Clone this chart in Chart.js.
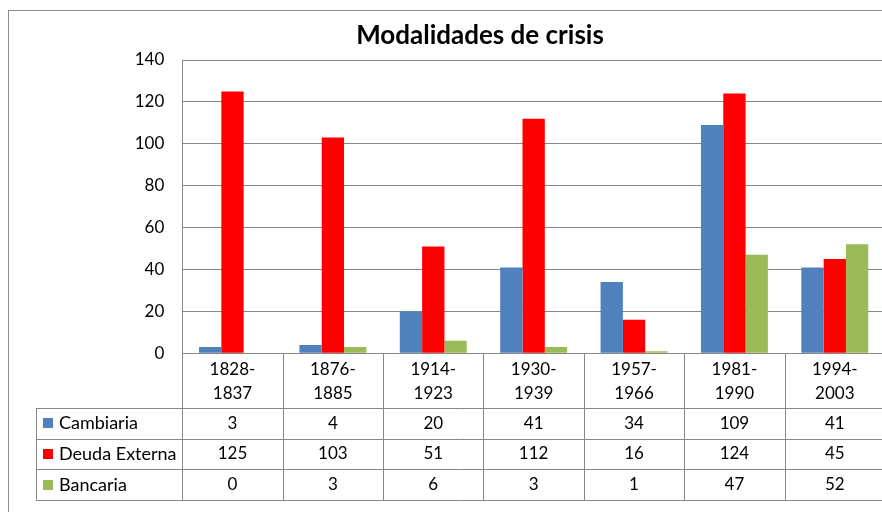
<!DOCTYPE html>
<html>
<head>
<meta charset="utf-8">
<script src="https://cdn.jsdelivr.net/npm/chart.js@4"></script>
<style>
  html, body { margin: 0; padding: 0; background: #fff; width: 882px; height: 512px; overflow: hidden; }
  #frame { position: absolute; left: 8px; top: 10px; width: 1000px; height: 600px; border: 1px solid #8e8e8e; }
  #wrap { position: absolute; left: 9px; top: 11px; width: 942px; height: 501px; }
</style>
</head>
<body>
<div id="frame"></div>
<div id="wrap"><canvas id="chartCrisis" width="942" height="501"></canvas></div>
<script>
// Modalidades de crisis: barras agrupadas + tabla de datos debajo (estilo Excel)
const categories = [
    ["1828-", "1837"], ["1876-", "1885"], ["1914-", "1923"], ["1930-", "1939"],
    ["1957-", "1966"], ["1981-", "1990"], ["1994-", "2003"]
];
const cambiaria = [3, 4, 20, 41, 34, 109, 41];
const deudaExterna = [125, 103, 51, 112, 16, 124, 45];
const bancaria = [0, 3, 6, 3, 1, 47, 52];
const yTicks = [0, 20, 40, 60, 80, 100, 120, 140];

const series = [
    { label: "Cambiaria", data: cambiaria, color: "#4f81bd" },
    { label: "Deuda Externa", data: deudaExterna, color: "#ff0000" },
    { label: "Bancaria", data: bancaria, color: "#9bbb59" },
];

const gridColor = "#868686";
const fontFamily = "Lato, 'Open Sans', sans-serif";

// tabla de datos (fila de categorias + una fila por serie) y titulo
const tablePlugin = {
    id: "dataTable",
    afterDraw(chart) {
        const { ctx, chartArea, scales: { x } } = chart;
        const top = chartArea.bottom;
        const rowTop = top + 54.5;
        const rowH = 30.8;
        const bottom = rowTop + rowH * 3;
        const left = 27;
        const step = (chartArea.right - chartArea.left) / categories.length;

        ctx.save();
        ctx.strokeStyle = gridColor;
        ctx.lineWidth = 1;
        ctx.beginPath();
        for (let r = 0; r <= 3; r++) {
            const yy = Math.round(rowTop + r * rowH) + 0.5;
            ctx.moveTo(left, yy);
            ctx.lineTo(chartArea.right, yy);
        }
        ctx.moveTo(left + 0.5, rowTop);
        ctx.lineTo(left + 0.5, bottom);
        for (let i = 0; i <= categories.length; i++) {
            const xx = Math.round(chartArea.left + i * step) + 0.5;
            ctx.moveTo(xx, top);
            ctx.lineTo(xx, bottom);
        }
        ctx.stroke();

        ctx.fillStyle = "#000";
        ctx.textBaseline = "middle";
        ctx.textAlign = "center";
        ctx.font = "17px " + fontFamily;
        categories.forEach((lines, i) => {
            const cx = x.getPixelForValue(i);
            lines.forEach((t, k) => ctx.fillText(t, cx, top + 16.5 + k * 24));
        });

        series.forEach((s, r) => {
            const cy = rowTop + rowH * (r + 0.5);
            ctx.fillStyle = s.color;
            ctx.fillRect(34, Math.round(cy) - 5, 10, 10);
            ctx.fillStyle = "#000";
            ctx.textAlign = "left";
            ctx.font = "18px " + fontFamily;
            ctx.fillText(s.label, 50, cy);
            ctx.textAlign = "center";
            ctx.font = "17px " + fontFamily;
            s.data.forEach((v, i) => ctx.fillText(String(v), x.getPixelForValue(i), cy));
        });

        // titulo centrado sobre todo el grafico
        ctx.font = "bold 26px " + fontFamily;
        ctx.textAlign = "center";
        ctx.fillText("Modalidades de crisis", chart.width / 2, 24.5);
        ctx.restore();
    },
};

new Chart(document.getElementById("chartCrisis"), {
    type: "bar",
    data: {
        labels: categories,
        datasets: series.map((s) => ({
            label: s.label,
            data: s.data,
            backgroundColor: s.color,
            borderWidth: 0,
            categoryPercentage: 3 / 4.5,
            barPercentage: 1,
        })),
    },
    options: {
        responsive: false,
        animation: false,
        layout: { padding: { top: 49, right: 66, bottom: 0, left: 0 } },
        plugins: {
            legend: { display: false },
            title: { display: false },
            tooltip: { enabled: false },
        },
        scales: {
            x: {
                grid: { display: false },
                border: { display: true, color: gridColor, width: 1 },
                ticks: { display: false },
                afterFit(scale) { scale.height = 158.7; },
            },
            y: {
                min: 0,
                max: 140,
                afterBuildTicks(scale) { scale.ticks = yTicks.map((v) => ({ value: v })); },
                grid: { color: gridColor, drawTicks: false },
                border: { display: true, color: gridColor, width: 1 },
                ticks: {
                    color: "#000",
                    font: { family: fontFamily, size: 17 },
                    padding: 18,
                },
                afterFit(scale) { scale.width = 173.3; },
            },
        },
    },
    plugins: [tablePlugin],
});
</script>
</body>
</html>
